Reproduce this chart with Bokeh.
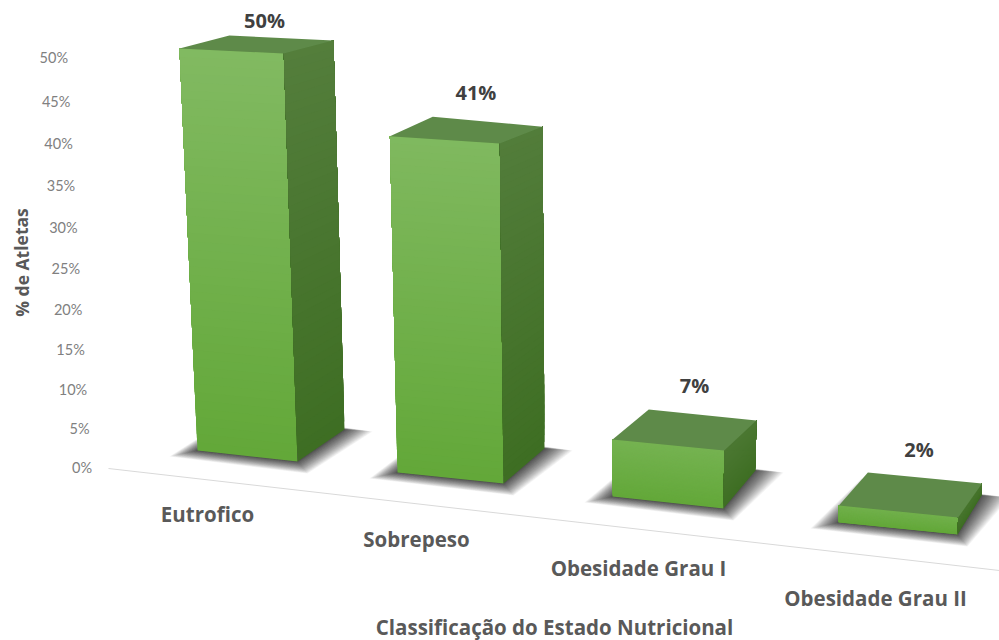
from bokeh.plotting import figure
from bokeh.models import ColumnDataSource
from bokeh.core.properties import value
from bokeh.embed import file_html
from bokeh.resources import INLINE
import math

# Chart content
categories = ["Eutrofico", "Sobrepeso", "Obesidade Grau I", "Obesidade Grau II"]
percent_atletas = [50, 41, 7, 2]
tick_values = [0, 5, 10, 15, 20, 25, 30, 35, 40, 45, 50]
x_title = "Classificação do Estado Nutricional"
y_title = "% de Atletas"

# Floor footprint of each box on the page: front-left, front-right, back-right, back-left
FLOOR = [
    [(197, 450), (297, 461), (344, 429), (244, 418)],
    [(397, 472), (503, 483), (544, 448), (438, 436)],
    [(612, 496), (723, 508), (755, 470), (648, 459)],
    [(838, 522), (957, 534), (981, 495), (867, 484)],
]
# Pixels per percentage point along each vertical edge, same corner order
EDGE_SCALE = [
    [8.04, 8.16, 7.78, 7.66],
    [8.20, 8.29, 7.85, 7.80],
    [8.14, 8.29, 7.14, 7.14],
    [8.50, 8.50, 6.00, 6.00],
]
VANISH_X, VANISH_DEPTH = 600, 9000
LABEL_SHIFT = [(85, -28), (86, -44), (82, -54), (80, -56)]
CATEGORY_POS = [(207, 513), (416, 538), (638, 567), (875, 597)]


def lift(corner, scale, v):
    """Raise a floor point by v percent; verticals converge on a point far below."""
    x, y = corner
    h = v * scale
    return (x - (VANISH_X - x) * h / VANISH_DEPTH, y - h)


def tick_y(v):
    return 467 - 7.73 * v / (1 - 0.00113 * v)


def tick_right(v):
    return 91.5 - 0.48 * v


def mix(a, b, t):
    return "#%02x%02x%02x" % tuple(round(a[i] + (b[i] - a[i]) * t) for i in range(3))


def lerp(p, q, t):
    return (p[0] + (q[0] - p[0]) * t, p[1] + (q[1] - p[1]) * t)


FRONT_LOW, FRONT_HIGH = (99, 168, 57), (130, 186, 98)
SIDE_LOW, SIDE_HIGH = (62, 110, 35), (84, 126, 60)
TOP_FILL = "#5e8a49"

p = figure(width=999, height=640, x_range=(0, 999), y_range=(640, 0),
           output_backend="svg", toolbar_location=None, min_border=0,
           background_fill_color="white", border_fill_color="white")
p.xaxis.visible = False
p.yaxis.visible = False
p.grid.visible = False
p.outline_line_color = None

# Ground line running under the boxes
p.line([108, 999], [468, 570], line_color="#d9d9d9", line_width=1)

# Soft contact shadows, stacked translucent outlines bunched close to the box
SPREAD = [(-28, 6), (10, 12), (28, 2), (-6, -6)]
LAYERS = 36
shadow = dict(xs=[], ys=[])
for floor in FLOOR:
    for k in range(LAYERS):
        t = (1 - k / LAYERS) ** 1.6
        shadow["xs"].append([c[0] + s[0] * t for c, s in zip(floor, SPREAD)])
        shadow["ys"].append([c[1] + s[1] * t for c, s in zip(floor, SPREAD)])
p.patches("xs", "ys", source=ColumnDataSource(shadow), fill_color="#333333",
          fill_alpha=0.052, line_color=None)

# Boxes: each band runs from its lower edge to the face's top, so later bands
# paint over earlier ones and leave no seams in the vertical gradient
BANDS = 48
faces = dict(xs=[], ys=[], color=[])
for v, floor, scale in zip(percent_atletas, FLOOR, EDGE_SCALE):
    tops = [lift(c, s, v) for c, s in zip(floor, scale)]
    reach = math.sqrt(v / max(percent_atletas))
    for (a, b, low, high) in ((0, 1, FRONT_LOW, FRONT_HIGH), (1, 2, SIDE_LOW, SIDE_HIGH)):
        for n in range(BANDS):
            t0 = n / BANDS
            q = [lerp(floor[a], tops[a], t0), lerp(floor[b], tops[b], t0), tops[b], tops[a]]
            faces["xs"].append([c[0] for c in q])
            faces["ys"].append([c[1] for c in q])
            faces["color"].append(mix(low, high, t0 * (0.35 + 0.65 * reach)))
    faces["xs"].append([c[0] for c in tops])
    faces["ys"].append([c[1] for c in tops])
    faces["color"].append(TOP_FILL)
p.patches("xs", "ys", source=ColumnDataSource(faces), fill_color="color", line_color=None)

# Value labels above the boxes
tops_fl = [lift(f[0], s[0], v) for f, s, v in zip(FLOOR, EDGE_SCALE, percent_atletas)]
p.text(x=[t[0] + d[0] for t, d in zip(tops_fl, LABEL_SHIFT)],
       y=[t[1] + d[1] for t, d in zip(tops_fl, LABEL_SHIFT)],
       text=[f"{v}%" for v in percent_atletas],
       text_font=value("Open Sans"), text_font_style="bold", text_font_size="20px",
       text_color="#404040", text_align="center", text_baseline="middle")

# Percentage ticks, stepping inwards as they descend
p.text(x=[tick_right(v) for v in tick_values], y=[tick_y(v) for v in tick_values],
       text=[f"{v}%" for v in tick_values],
       text_font=value("Lato"), text_font_size="14.5px", text_color="#808080",
       text_align="right", text_baseline="middle")

# Category names
p.text(x=[c[0] for c in CATEGORY_POS], y=[c[1] for c in CATEGORY_POS], text=categories,
       text_font=value("Open Sans"), text_font_style="bold", text_font_size="20.5px",
       text_color="#595959", text_align="center", text_baseline="middle")

# Axis titles
p.text(x=[554], y=[626], text=[x_title], text_font=value("Open Sans"),
       text_font_style="bold", text_font_size="20.5px", text_color="#595959",
       text_align="center", text_baseline="middle")
p.text(x=[21], y=[262], text=[y_title], angle=[math.pi / 2], text_font=value("Open Sans"),
       text_font_style="bold", text_font_size="17.5px", text_color="#595959",
       text_align="center", text_baseline="middle")

open("out.html", "w").write(file_html(p, INLINE))
